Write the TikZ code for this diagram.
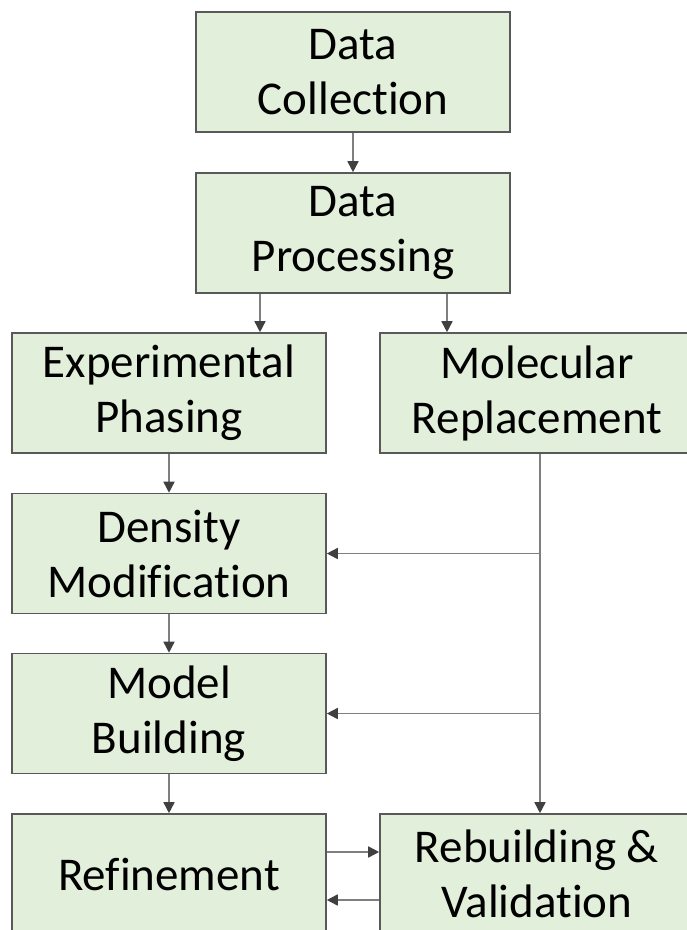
\documentclass[tikz,border=0pt]{standalone}
\usepackage{fontspec}
\setmainfont[RawFeature=-liga]{Carlito}
\usetikzlibrary{arrows.meta}
\definecolor{boxfill}{HTML}{E2EFDA}
\definecolor{boxline}{HTML}{595959}
\definecolor{conn}{HTML}{7F7F7F}
\definecolor{tipc}{HTML}{404040}
\begin{document}
\begin{tikzpicture}[x=1pt,y=-1pt,
  stage/.style={draw=boxline, line width=1.6pt, fill=boxfill, minimum width=314pt, minimum height=120pt, inner sep=0pt, align=center, font=\fontsize{47}{55}\selectfont, text=black},
  arr/.style={draw=conn, line width=1.6pt, -{Triangle[length=11pt,width=11pt,color=tipc,fill=tipc]}},
  ln/.style={draw=conn, line width=1.6pt}]
\useasboundingbox (0,0) rectangle (687,930);
\clip (0,0) rectangle (687,930);
\fill[white] (0,0) rectangle (687,930);
\node[stage] (DC) at (353,72) {Data\\Collection};
\node[stage] (DP) at (353,233) {Data\\Processing};
\node[stage] (EP) at (169,393) {Experimental\\Phasing};
\node[stage] (MR) at (537,393) {Molecular\\Replacement};
\node[stage] (DM) at (169,553.5) {Density\\Modification};
\node[stage] (MB) at (169,713.5) {Model\\Building};
\node[stage] (RF) at (169,874) {Refinement};
\node[stage] (RV) at (537,874) {Rebuilding \&\\Validation};
\coordinate (xa) at (260,0);
\coordinate (xb) at (447,0);
\coordinate (xm) at (540,0);
\coordinate (y1) at (0,852);
\coordinate (y2) at (0,900);
\draw[arr] (DC) -- (DP);
\draw[arr] (DP.south -| xa) -- (EP.north -| xa);
\draw[arr] (DP.south -| xb) -- (MR.north -| xb);
\draw[arr] (EP) -- (DM);
\draw[arr] (DM) -- (MB);
\draw[arr] (MB) -- (RF);
\draw[arr] (MR.south -| xm) -- (RV.north -| xm);
\draw[arr] (DM.east -| xm) -- (DM.east);
\draw[arr] (MB.east -| xm) -- (MB.east);
\draw[arr] (RF.east |- y1) -- (RV.west |- y1);
\draw[arr] (RV.west |- y2) -- (RF.east |- y2);
\end{tikzpicture}
\end{document}
